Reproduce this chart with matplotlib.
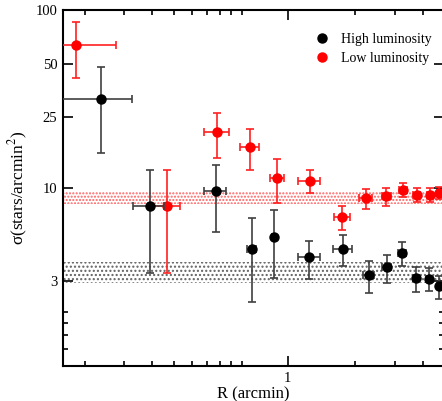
import matplotlib
matplotlib.use("Agg")
import matplotlib.pyplot as plt
from matplotlib.lines import Line2D
from matplotlib.ticker import FixedLocator, NullFormatter, FixedFormatter

# ---- data ----
x_high = [0.148, 0.244, 0.479, 0.692, 0.869, 1.252, 1.766, 2.298, 2.77, 3.245, 3.744, 4.25, 4.72]
xerr_high = [0.055, 0.038, 0.053, 0.03, 0.02, 0.14, 0.17, 0.12, 0.13, 0.14, 0.12, 0.1, 0.1]
y_high = [31.7, 7.95, 9.57, 4.54, 5.31, 4.07, 4.54, 3.24, 3.58, 4.31, 3.12, 3.08, 2.80]
yerr_high = [15.9, 4.6, 3.9, 2.25, 2.17, 1.0, 0.91, 0.67, 0.65, 0.65, 0.5, 0.45, 0.42]

x_low = [0.114, 0.290, 0.487, 0.680, 0.899, 1.256, 1.756, 2.228, 2.754, 3.265, 3.767, 4.29, 4.72]
xerr_low = [0.058, 0.042, 0.064, 0.067, 0.066, 0.14, 0.15, 0.15, 0.13, 0.14, 0.13, 0.1, 0.1]
y_low = [63.8, 7.95, 20.6, 17.06, 11.43, 10.95, 6.87, 8.74, 8.97, 9.78, 9.14, 9.14, 9.37]
yerr_low = [22.3, 4.6, 5.8, 4.4, 3.2, 1.6, 1.08, 1.08, 1.0, 0.9, 0.85, 0.8, 0.75]

band_low = [8.13, 9.66]
band_high = [2.93, 3.84]

y_major = [3, 10, 25, 50, 100]
y_major_labels = ["3", "10", "25", "50", "100"]
y_minor = [1.25, 1.5, 1.75, 2.0]
x_major = [1]
x_major_labels = ["1"]
x_minor = [0.125, 0.1875, 0.25, 0.3125, 0.375, 0.4375, 0.5, 0.5625, 0.625, 2, 3, 4]

xlim = (0.1, 4.95)
ylim = (1.0, 100.0)

# ---- style ----
plt.rcParams['font.family'] = ['Liberation Serif', 'DejaVu Serif']
plt.rcParams['mathtext.fontset'] = 'stix'
plt.rcParams['hatch.linewidth'] = 1.0

W, H = 442, 401
fig = plt.figure(figsize=(W / 100, H / 100), dpi=100)
L, R, T, B = 63, 443.5, 10, 366
ax = fig.add_axes([L / W, (H - B) / H, (R - L) / W, (B - T) / H])
ax.set_xscale('log')
ax.set_yscale('log')
ax.set_xlim(*xlim)
ax.set_ylim(*ylim)

# bands
ax.fill_between(xlim, band_low[0], band_low[1], facecolor='none', edgecolor='#ff6060',
                hatch='.....', linewidth=0, zorder=1)
ax.fill_between(xlim, band_high[0], band_high[1], facecolor='none', edgecolor='#606060',
                hatch='....', linewidth=0, zorder=1)

# data
ax.errorbar(x_low, y_low, xerr=xerr_low, yerr=yerr_low, fmt='o', color='red',
            ecolor='#ff2020', ms=6.5, elinewidth=1.2, capsize=3, capthick=1.2, zorder=3)
ax.errorbar(x_high, y_high, xerr=xerr_high, yerr=yerr_high, fmt='o', color='black',
            ecolor='#404040', ms=6.5, elinewidth=1.2, capsize=3, capthick=1.2, zorder=4)

# ticks
ax.yaxis.set_major_locator(FixedLocator(y_major))
ax.yaxis.set_major_formatter(FixedFormatter(y_major_labels))
ax.yaxis.set_minor_locator(FixedLocator(y_minor))
ax.yaxis.set_minor_formatter(NullFormatter())
ax.xaxis.set_major_locator(FixedLocator(x_major))
ax.xaxis.set_major_formatter(FixedFormatter(x_major_labels))
ax.xaxis.set_minor_locator(FixedLocator(x_minor))
ax.xaxis.set_minor_formatter(NullFormatter())
ax.tick_params(which='both', direction='in', top=True, right=True, labelsize=10.5, width=1.2)
ax.tick_params(which='major', length=7, pad=4)
ax.tick_params(which='minor', length=3.5)
for s in ax.spines.values():
    s.set_linewidth(1.5)

ax.set_xlabel('R (arcmin)', fontsize=12, labelpad=1)
ax.set_ylabel(r'σ(stars/arcmin$^{2}$)', fontsize=12.5, labelpad=4)

handles = [Line2D([], [], marker='o', color='black', ls='none', ms=6.5),
           Line2D([], [], marker='o', color='red', ls='none', ms=6.5)]
ax.legend(handles, ['High luminosity', 'Low luminosity'], loc='upper left',
          bbox_to_anchor=(0.64, 0.955), frameon=False, fontsize=10,
          handletextpad=0.8, labelspacing=0.45, borderpad=0, handlelength=1.2)

fig.savefig('out.png', dpi=100)
